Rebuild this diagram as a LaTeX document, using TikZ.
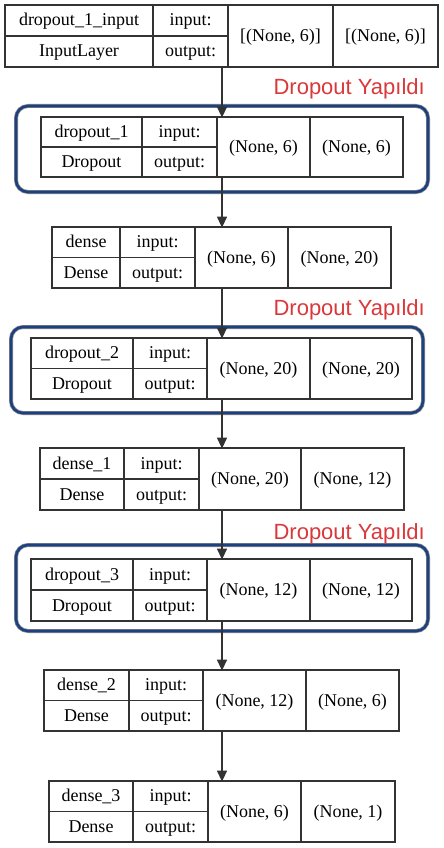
\documentclass[tikz,border=0pt]{standalone}
\usepackage{fontspec}
\setmainfont{Liberation Serif}
\newfontfamily\redsans{Liberation Sans}
\usetikzlibrary{arrows.meta}
\definecolor{navyb}{RGB}{28,64,128}
\definecolor{lbl}{RGB}{218,56,58}
\definecolor{lnc}{RGB}{51,51,51}
\tikzset{
  frame/.style={draw=lnc, line width=1.3pt, inner sep=0pt, outer sep=0pt},
  cellline/.style={draw=lnc, line width=1.3pt},
  txt/.style={anchor=base, inner sep=0pt, font=\fontsize{18}{20}\selectfont},
  lab/.style={anchor=base east, inner sep=0pt, text=lbl, font=\redsans\fontsize{22}{24}\selectfont},
  grp/.style={rectangle, rounded corners=12pt, draw=navyb, line width=2.6pt, inner sep=0pt, outer sep=0pt,
    preaction={draw=black!45, line width=4pt}},
  arr/.style={draw=lnc, line width=1.3pt, -{Triangle[length=11pt,width=10pt]}, shorten >=-0.6pt}
}
\newcommand\layer[8]{\def\Ln{#1}\def\Lxa{#2}\def\Lca{#3}\def\Lcb{#4}\def\Lcc{#5}\def\Lxb{#6}\def\Lya{#7}\def\Lyb{#8}\layertext}
\newcommand\layertext[4]{%
  \pgfmathsetmacro\Lym{(\Lya+\Lyb)/2}%
  \node[frame, minimum width={(\Lxb-\Lxa)*1pt}, minimum height={(\Lyb-\Lya)*1pt}] (\Ln) at ({(\Lxa+\Lxb)/2},\Lym) {};
  \draw[cellline] (\Lca,\Lya) -- (\Lca,\Lyb) (\Lcb,\Lya) -- (\Lcb,\Lyb) (\Lcc,\Lya) -- (\Lcc,\Lyb) (\Lxa,\Lym) -- (\Lcb,\Lym);
  \node[txt] (\Ln-name) at ({(\Lxa+\Lca)/2},{(\Lya+\Lym)/2+5.5}) {#1};
  \node[txt] (\Ln-type) at ({(\Lxa+\Lca)/2},{(\Lym+\Lyb)/2+5.5}) {#2};
  \node[txt] (\Ln-ilab) at ({(\Lca+\Lcb)/2},{(\Lya+\Lym)/2+5.5}) {input:};
  \node[txt] (\Ln-olab) at ({(\Lca+\Lcb)/2},{(\Lym+\Lyb)/2+5.5}) {output:};
  \node[txt] (\Ln-in) at ({(\Lcb+\Lcc)/2},{\Lym+5.5}) {#3};
  \node[txt] (\Ln-out) at ({(\Lcc+\Lxb)/2},{\Lym+5.5}) {#4};
}
\begin{document}
\begin{tikzpicture}[x=1pt,y=-1pt]
\useasboundingbox (0,0) rectangle (444,848);
\fill[white] (0,0) rectangle (444,848);
% groups
\node[grp, minimum width=412pt, minimum height=86pt] (g1) at (222,149) {};
\node[grp, minimum width=412pt, minimum height=86pt] (g2) at (217,370) {};
\node[grp, minimum width=412pt, minimum height=86pt] (g3) at (222,588) {};
% labels
\node[lab] (t1) at (425,94.3) {Dropout Yapıldı};
\node[lab] (t2) at (425,315) {Dropout Yapıldı};
\node[lab] (t3) at (425,539.3) {Dropout Yapıldı};
% layers
\layer{L0}{5}{153}{228}{333}{438}{5}{67}{dropout\_1\_input}{InputLayer}{[(None, 6)]}{[(None, 6)]}
\layer{L1}{41}{142}{217}{310}{403}{117}{177}{dropout\_1}{Dropout}{(None, 6)}{(None, 6)}
\layer{L2}{52}{120}{195}{288}{391}{227}{288}{dense}{Dense}{(None, 6)}{(None, 20)}
\layer{L3}{31}{133}{207}{310}{412}{338}{399}{dropout\_2}{Dropout}{(None, 20)}{(None, 20)}
\layer{L4}{40}{124}{199}{301}{404}{448}{510}{dense\_1}{Dense}{(None, 20)}{(None, 12)}
\layer{L5}{31}{133}{207}{310}{412}{559}{621}{dropout\_3}{Dropout}{(None, 12)}{(None, 12)}
\layer{L6}{44}{129}{203}{306}{399}{670}{731}{dense\_2}{Dense}{(None, 12)}{(None, 6)}
\layer{L7}{49}{133}{208}{301}{395}{781}{842}{dense\_3}{Dense}{(None, 6)}{(None, 1)}
% arrows
\coordinate (ax) at (222,0);
\draw[arr] (L0.south -| ax) -- (L1.north -| ax);
\draw[arr] (L1.south -| ax) -- (L2.north -| ax);
\draw[arr] (L2.south -| ax) -- (L3.north -| ax);
\draw[arr] (L3.south -| ax) -- (L4.north -| ax);
\draw[arr] (L4.south -| ax) -- (L5.north -| ax);
\draw[arr] (L5.south -| ax) -- (L6.north -| ax);
\draw[arr] (L6.south -| ax) -- (L7.north -| ax);
\end{tikzpicture}
\end{document}
